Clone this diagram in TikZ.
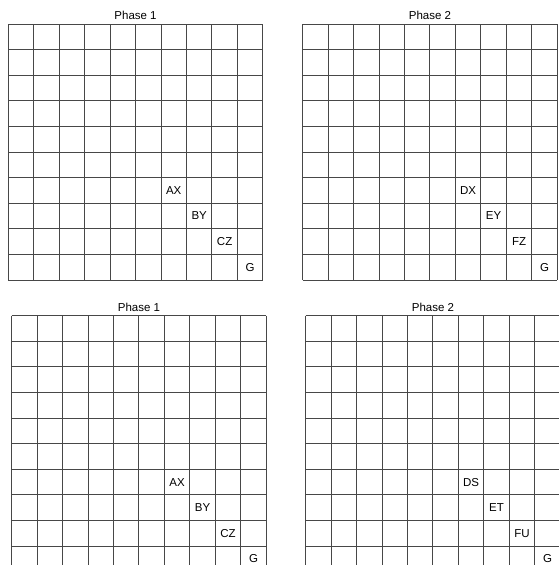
\documentclass[tikz,border=0pt]{standalone}
\usepackage{fontspec}
\setmainfont{Liberation Sans}

\begin{document}
\begin{tikzpicture}[
  x=1pt,y=-1pt,
  gridline/.style={draw=black!72,line width=1pt},
  title/.style={anchor=base,font=\fontsize{11.5}{13}\selectfont},
  cell/.style={inner sep=0pt,font=\fontsize{11.5}{13}\selectfont},
]
  \useasboundingbox (0,0) rectangle (559,565);
  \clip (0,0) rectangle (559,565);

  % four 10x10 boards, the last row/column of the lower ones runs off the page
  \foreach \gx/\gy/\ttl/\la/\lb/\lc/\gname in {
      8.3/24/Phase 1/AX/BY/CZ/tl,
      302.7/24/Phase 2/DX/EY/FZ/tr,
      11.7/315.7/Phase 1/AX/BY/CZ/bl,
      305.7/315.7/Phase 2/DS/ET/FU/br} {
    \begin{scope}[shift={(\gx,\gy)}]
      \foreach \i in {0,...,10} {
        \draw[gridline] (\i*25.45,0) -- (\i*25.45,256);
        \draw[gridline] (0,\i*25.6) -- (254.5,\i*25.6);
      }
      \node[title] (\gname-title) at (127.25,-4.5) {\ttl};
      \node[cell] (\gname-a) at (6.5*25.45,6.5*25.6) {\la};
      \node[cell] (\gname-b) at (7.5*25.45,7.5*25.6) {\lb};
      \node[cell] (\gname-c) at (8.5*25.45,8.5*25.6) {\lc};
      \node[cell] (\gname-g) at (9.5*25.45,9.5*25.6) {G};
    \end{scope}
  }
\end{tikzpicture}
\end{document}
